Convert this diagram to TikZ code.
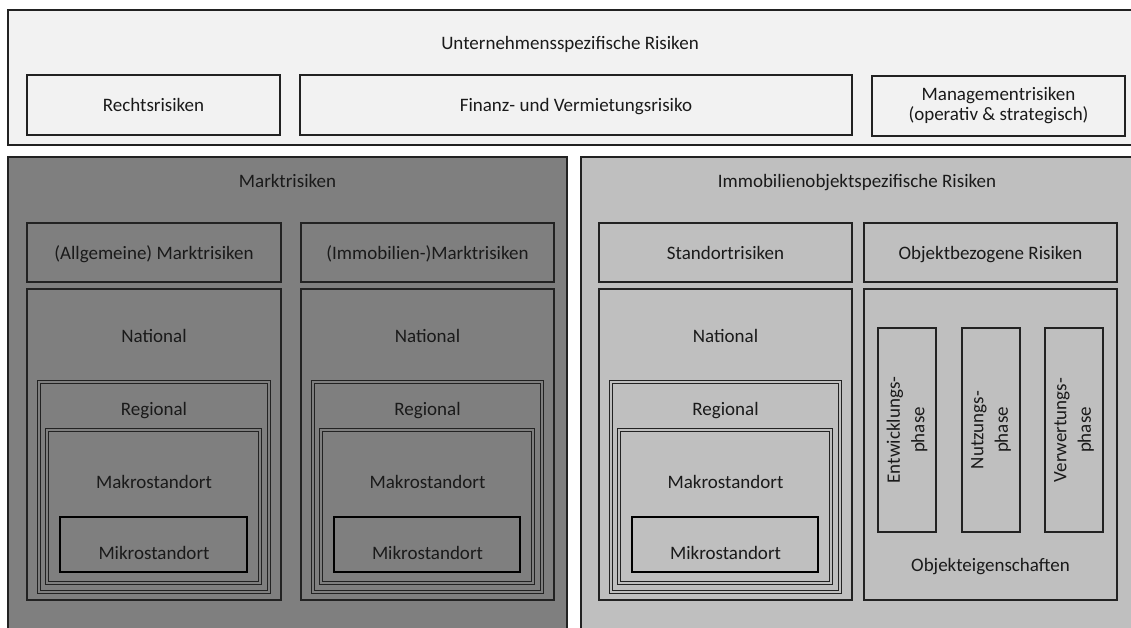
\documentclass[tikz,border=0pt]{standalone}
\usepackage{fontspec}
\setmainfont{Carlito}
\definecolor{linec}{HTML}{222222}
\definecolor{textc}{HTML}{1A1A1A}
\definecolor{topfill}{HTML}{F2F2F2}
\definecolor{marktfill}{HTML}{7F7F7F}
\definecolor{objfill}{HTML}{BFBFBF}
\tikzset{
  box/.style={draw=linec, line width=1.7pt, inner sep=0pt, outer sep=0pt},
  regional/.style={draw=linec, line width=0.9pt, double=#1, double distance=1.6pt},
  makro/.style={draw=linec, line width=1.1pt, double=#1, double distance=1.3pt},
  mikro/.style={draw=black, line width=2.4pt},
  txt/.style={font=\fontsize{19}{23}\selectfont, text=textc, inner sep=0pt, anchor=base},
}
% \rbox[options]{name}{x1}{y1}{x2}{y2}: rectangle node from top-left to bottom-right
\newcommand{\rbox}[6][]{%
  \node[box, #1, anchor=north west,
        minimum width={((#5)-(#3))*1pt}, minimum height={((#6)-(#4))*1pt}]
        (#2) at (#3,#4) {};}
% \locstack{prefix}{left}{right}{fill}: National / Regional / Makro / Mikro nesting
\newcommand{\locstack}[4]{%
  \rbox{#1nat}{#2}{289}{#3}{600}
  \rbox[regional=#4]{#1reg}{#2+12}{382}{#3-12}{592}
  \rbox[makro=#4]{#1mak}{#2+20}{430}{#3-21}{583}
  \rbox[mikro]{#1mik}{#2+33}{517}{#3-34}{572}
  \node[txt] (#1natT) at ({(#2+#3)/2},342) {National};
  \node[txt] (#1regT) at ({(#2+#3)/2},415) {Regional};
  \node[txt] (#1makT) at ({(#2+#3)/2},488) {Makrostandort};
  \node[txt] (#1mikT) at ({(#2+#3)/2},559) {Mikrostandort};
}
\begin{document}
\begin{tikzpicture}[x=1pt,y=-1pt]
\useasboundingbox (0,0) rectangle (1131,628);
\fill[white] (0,0) rectangle (1131,628);
\clip (0,0) rectangle (1131,628);

% company-specific risks
\rbox[fill=topfill]{unt}{8}{10}{1132}{145}
\node[txt] (untT) at (570,49.5) {Unternehmensspezifische Risiken};
\rbox{recht}{27}{75}{280}{135}
\node[txt] (rechtT) at (153.5,111.7) {Rechtsrisiken};
\rbox{finanz}{300}{75}{852}{135}
\node[txt] (finanzT) at (576,111.7) {Finanz- und Vermietungsrisiko};
\rbox{mgmt}{872}{76}{1125}{136}
\node[txt, anchor=center, align=center, font=\fontsize{19}{20}\selectfont] (mgmtT) at (998.5,106)
  {Managementrisiken\\(operativ \& strategisch)};

% market risks
\rbox[fill=marktfill]{markt}{8}{157}{567}{660}
\node[txt] (marktT) at (287.5,188) {Marktrisiken};
\rbox{allg}{27}{223}{281}{282}
\node[txt] (allgT) at (154,259) {(Allgemeine) Marktrisiken};
\rbox{immo}{301}{223}{554}{282}
\node[txt] (immoT) at (427.5,259) {(Immobilien-)Marktrisiken};
\locstack{a}{27}{281}{marktfill}
\locstack{b}{301}{554}{marktfill}

% property-specific risks
\rbox[fill=objfill]{obj}{581}{157}{1132}{660}
\node[txt] (objT) at (857,188) {Immobilienobjektspezifische Risiken};
\rbox{stand}{599}{223}{852}{282}
\node[txt] (standT) at (725.5,259) {Standortrisiken};
\rbox{objbez}{864}{223}{1117}{282}
\node[txt] (objbezT) at (990.5,259) {Objektbezogene Risiken};
\locstack{c}{599}{852}{objfill}

\rbox{eig}{864}{289}{1117}{600}
\node[txt] (eigT) at (990.5,571) {Objekteigenschaften};
\rbox{ph1}{878}{328}{936}{532}
\rbox{ph2}{962}{328}{1020}{532}
\rbox{ph3}{1045}{328}{1103}{532}
\foreach \n/\t in {ph1/Entwicklungs-, ph2/Nutzungs-, ph3/Verwertungs-}
  \node[txt, anchor=center, align=center, rotate=90, font=\fontsize{19}{24.5}\selectfont]
    (\n T) at (\n.center) {\t\\phase};
\end{tikzpicture}
\end{document}
